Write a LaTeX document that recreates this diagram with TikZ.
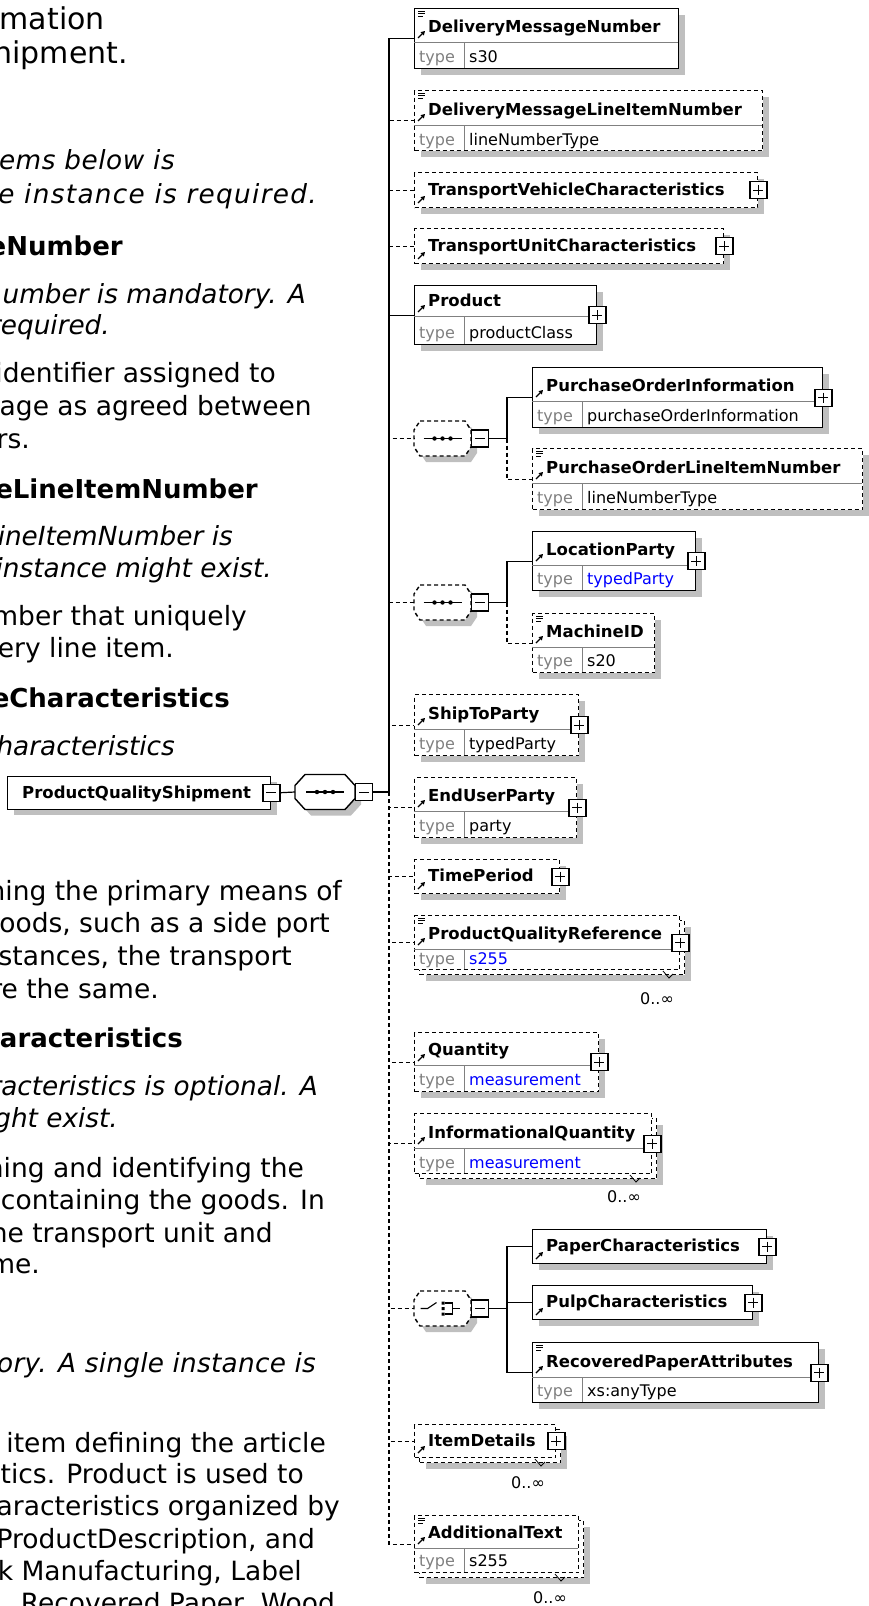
\documentclass[tikz,border=0pt]{standalone}
\usepackage{fontspec}
\setmainfont{DejaVu Sans}
\usepackage{tikz}
\usetikzlibrary{arrows.meta}
\usetikzlibrary{positioning}
\usetikzlibrary{shadows}
\definecolor{typeblue}{RGB}{0,0,255}
\tikzset{
  ttl/.style={font=\fontsize{30}{37}\selectfont, anchor=base east, inner sep=0pt},
  txt/.style={font=\fontsize{26.5}{32}\selectfont, anchor=base east, inner sep=0pt},
  itl/.style={txt, font=\itshape\fontsize{26.3}{32}\selectfont},
  hd/.style={txt, font=\bfseries\fontsize{26}{32}\selectfont},
  opt/.style={dash pattern=on 4pt off 3pt},
  elem/.style={draw, line width=1.4pt, fill=white, inner sep=0pt, anchor=north west,
    drop shadow={shadow xshift=6pt, shadow yshift=-6pt, fill=black!25, opacity=1}},
  stack/.style={draw, line width=1.4pt, fill=white, inner sep=0pt, anchor=north west, opt},
  compo/.style={inner sep=0pt, outer sep=0pt, minimum width=57pt, minimum height=35pt},
  elemname/.style={font=\bfseries\fontsize{16.5}{18}\selectfont, anchor=base west, inner sep=0pt},
  typename/.style={font=\fontsize{16}{18}\selectfont, text=black!50, anchor=base west, inner sep=0pt},
  typeval/.style={font=\fontsize{16}{18}\selectfont, anchor=base west, inner sep=0pt},
  occurs/.style={font=\fontsize{16}{18}\selectfont, anchor=base, inner sep=0pt},
  divline/.style={draw=black!50, line width=1pt},
  conn/.style={line width=1.2pt},
  expand/.style={draw, fill=white, line width=1.2pt, minimum size=17pt, inner sep=0pt,
    path picture={\draw[line width=1pt] ([xshift=3.5pt]path picture bounding box.west) -- ([xshift=-3.5pt]path picture bounding box.east)
      ([yshift=-3.5pt]path picture bounding box.north) -- ([yshift=3.5pt]path picture bounding box.south);}},
  collapse/.style={draw, fill=white, line width=1.2pt, minimum size=17pt, inner sep=0pt,
    path picture={\draw[line width=1pt] ([xshift=3.5pt]path picture bounding box.west) -- ([xshift=-3.5pt]path picture bounding box.east);}},
  refarrow/.pic={\draw[line width=1.3pt, -{Triangle[length=4pt, width=4.5pt]}] (0,0) -- (7,-7);},
  docicon/.pic={\draw[line width=0.9pt] (0,0) -- (7,0) (0,2.5) -- (7,2.5) (0,5) -- (5,5);},
  seqdots/.pic={\draw[line width=1.2pt] (-19,0) -- (19,0);
    \fill (-8,0) circle (2.2pt) (0,0) circle (2.2pt) (8,0) circle (2.2pt);},
  choicesym/.pic={\draw[line width=1.1pt] (-22,0) -- (-15,0) -- (-6,-6);
    \fill (-1,-7) rectangle (2,-4) (-1,-1.5) rectangle (2,1.5) (-1,4) rectangle (2,7);
    \draw[line width=1.1pt] (2,-5.5) -- (10,-5.5) -- (10,5.5) -- (2,5.5) (10,0) -- (17,0);},
  octagon/.pic={\fill[black!25, shift={(6,6)}] (-22.5,-17.5) -- (22.5,-17.5) -- (28.5,-8.5) -- (28.5,8.5) -- (22.5,17.5) -- (-22.5,17.5) -- (-28.5,8.5) -- (-28.5,-8.5) -- cycle;
    \draw[line width=1.4pt, fill=white] (-22.5,-17.5) -- (22.5,-17.5) -- (28.5,-8.5) -- (28.5,8.5) -- (22.5,17.5) -- (-22.5,17.5) -- (-28.5,8.5) -- (-28.5,-8.5) -- cycle;}
}
\begin{document}
\begin{tikzpicture}[x=1pt, y=-1pt]
\useasboundingbox (0,0) rectangle (869,1606);

\node[ttl] (title_1) at (105,29) {mation};
\node[ttl] (title_2) at (128,63) {hipment.};
\node[itl] (note_1) at (175,169) {\addfontfeature{LetterSpace=2}ems below is};
\node[itl] (note_2) at (317,203) {\addfontfeature{LetterSpace=5}e instance is required.};
\node[hd] (head_1) at (123,255) {eNumber};
\node[itl] (note_3) at (306,303) {umber is mandatory. A};
\node[itl] (note_4) at (110,334) {required.};
\node[txt] (body_1) at (276,382) {identifier assigned to};
\node[txt] (body_2) at (312,415) {age as agreed between};
\node[txt] (body_3) at (30,448) {rs.};
\node[hd] (head_2) at (258,498) {eLineItemNumber};
\node[itl] (note_5) at (233,545) {ineItemNumber is};
\node[itl] (note_6) at (272,577) {instance might exist.};
\node[txt] (body_4) at (247,625) {mber that uniquely};
\node[txt] (body_5) at (174,657) {ery line item.};
\node[hd] (head_3) at (230,707) {eCharacteristics};
\node[itl] (note_7) at (175,755) {haracteristics};
\node[txt] (body_6) at (342,900) {ning the primary means of};
\node[txt] (body_7) at (330,932) {oods, such as a side port};
\node[txt] (body_8) at (292,965) {stances, the transport};
\node[txt] (body_9) at (159,998) {re the same.};
\node[hd] (head_4) at (183,1047) {aracteristics};
\node[itl] (note_8) at (318,1095) {racteristics is optional. A};
\node[itl] (note_9) at (118,1127) {ght exist.};
\node[txt] (body_10) at (304,1177) {ning and identifying the};
\node[txt] (body_11) at (325,1209) {containing the goods. In};
\node[txt] (body_12) at (273,1242) {he transport unit and};
\node[txt] (body_13) at (40,1273) {me.};
\node[itl] (note_10) at (316,1372) {\addfontfeature{LetterSpace=1}ory. A single instance is};
\node[txt] (body_14) at (326,1452) {item defining the article};
\node[txt] (body_15) at (304,1483) {tics. Product is used to};
\node[txt] (body_16) at (340,1515) {aracteristics organized by};
\node[txt] (body_17) at (315,1548) {ProductDescription, and};
\node[txt] (body_18) at (302,1580) {k Manufacturing, Label};
\node[txt] (body_19) at (335,1612) {Recovered Paper, Wood};

\node[elem, minimum width=263pt, minimum height=33pt] (root) at (7,775.5) {};
\node[elemname] (root_name) at (22,798) {ProductQualityShipment};
\node[collapse] (root_minus) at (root.east) {};
\node[compo, minimum width=60pt] (seq_root) at (325,792) {};
\fill[black!25, shift={(6,6)}] (305,774.5) -- (345,774.5) -- (355,785.5) -- (355,798.5) -- (345,809.5) -- (305,809.5) -- (295,798.5) -- (295,785.5) -- cycle;
\draw[line width=1.4pt, fill=white] (305,774.5) -- (345,774.5) -- (355,785.5) -- (355,798.5) -- (345,809.5) -- (305,809.5) -- (295,798.5) -- (295,785.5) -- cycle;
\pic at (seq_root) {seqdots};
\node[collapse, right=0pt of seq_root] (seq_root_minus) {};
\coordinate (spine) at (389,792);

\node[elem, minimum width=264pt, minimum height=60pt] (dmn) at (414,8) {};
\draw[divline] (414,42) -- (678,42) (464,42) -- (464,68);
\pic at (418,11) {docicon};
\pic at (418,38) {refarrow};
\node[elemname] (dmn_name) at (428,32) {DeliveryMessageNumber};
\node[typename] (dmn_tn) at (419,62) {type};
\node[typeval] (dmn_tv) at (469,62) {s30};

\node[elem, opt, minimum width=348pt, minimum height=60pt] (dmlin) at (414,90) {};
\draw[divline] (414,125) -- (762,125) (464,125) -- (464,150);
\pic at (418,93) {docicon};
\pic at (418,121) {refarrow};
\node[elemname] (dmlin_name) at (428,115) {DeliveryMessageLineItemNumber};
\node[typename] (dmlin_tn) at (419,145) {type};
\node[typeval] (dmlin_tv) at (469,145) {lineNumberType};

\node[elem, opt, minimum width=343pt, minimum height=35pt] (tvc) at (414,172) {};
\pic at (418,203) {refarrow};
\node[elemname] (tvc_name) at (428,195) {TransportVehicleCharacteristics};
\node[expand] (tvc_plus) at (tvc.east) {};

\node[elem, opt, minimum width=309pt, minimum height=35pt] (tuc) at (414,228) {};
\pic at (418,259) {refarrow};
\node[elemname] (tuc_name) at (428,251) {TransportUnitCharacteristics};
\node[expand] (tuc_plus) at (tuc.east) {};

\node[elem, minimum width=182pt, minimum height=59pt] (product) at (414,285) {};
\draw[divline] (414,316) -- (596,316) (464,316) -- (464,344);
\pic at (418,312) {refarrow};
\node[elemname] (product_name) at (428,306) {Product};
\node[typename] (product_tn) at (419,338) {type};
\node[typeval] (product_tv) at (469,338) {productClass};
\node[expand] (product_plus) at (product.east) {};

\node[compo] (seq_a) at (442.5,438.5) {};
\pic[opt] at (seq_a) {octagon};
\pic at (seq_a) {seqdots};
\node[collapse, right=0pt of seq_a] (seq_a_minus) {};
\coordinate (bus_a) at (507,438.5);

\node[elem, minimum width=290pt, minimum height=60pt] (poi) at (532,367) {};
\draw[divline] (532,401) -- (822,401) (582,401) -- (582,427);
\pic at (536,397) {refarrow};
\node[elemname] (poi_name) at (546,391) {PurchaseOrderInformation};
\node[typename] (poi_tn) at (537,421) {type};
\node[typeval] (poi_tv) at (587,421) {purchaseOrderInformation};
\node[expand] (poi_plus) at (poi.east) {};

\node[elem, opt, minimum width=330pt, minimum height=61pt] (polin) at (532,448) {};
\draw[divline] (532,483) -- (862,483) (582,483) -- (582,509);
\pic at (536,451) {docicon};
\pic at (536,479) {refarrow};
\node[elemname] (polin_name) at (546,473) {PurchaseOrderLineItemNumber};
\node[typename] (polin_tn) at (537,503) {type};
\node[typeval] (polin_tv) at (587,503) {lineNumberType};

\node[compo] (seq_b) at (442.5,602.5) {};
\pic[opt] at (seq_b) {octagon};
\pic at (seq_b) {seqdots};
\node[collapse, right=0pt of seq_b] (seq_b_minus) {};
\coordinate (bus_b) at (507,602.5);

\node[elem, minimum width=163pt, minimum height=59pt] (locparty) at (532,531) {};
\draw[divline] (532,565) -- (695,565) (582,565) -- (582,590);
\pic at (536,561) {refarrow};
\node[elemname] (locparty_name) at (546,555) {LocationParty};
\node[typename] (locparty_tn) at (537,584) {type};
\node[typeval, text=typeblue] (locparty_tv) at (587,584) {typedParty};
\node[expand] (locparty_plus) at (locparty.east) {};

\node[elem, opt, minimum width=122pt, minimum height=59pt] (machineid) at (532,613) {};
\draw[divline] (532,647) -- (654,647) (582,647) -- (582,672);
\pic at (536,616) {docicon};
\pic at (536,643) {refarrow};
\node[elemname] (machineid_name) at (546,637) {MachineID};
\node[typename] (machineid_tn) at (537,666) {type};
\node[typeval] (machineid_tv) at (587,666) {s20};

\node[elem, opt, minimum width=164pt, minimum height=61pt] (shiptoparty) at (414,694) {};
\draw[divline] (414,729) -- (578,729) (464,729) -- (464,755);
\pic at (418,725) {refarrow};
\node[elemname] (shiptoparty_name) at (428,719) {ShipToParty};
\node[typename] (shiptoparty_tn) at (419,749) {type};
\node[typeval] (shiptoparty_tv) at (469,749) {typedParty};
\node[expand] (shiptoparty_plus) at (shiptoparty.east) {};

\node[elem, opt, minimum width=162pt, minimum height=60pt] (enduserparty) at (414,777) {};
\draw[divline] (414,811) -- (576,811) (464,811) -- (464,837);
\pic at (418,807) {refarrow};
\node[elemname] (enduserparty_name) at (428,801) {EndUserParty};
\node[typename] (enduserparty_tn) at (419,831) {type};
\node[typeval] (enduserparty_tv) at (469,831) {party};
\node[expand] (enduserparty_plus) at (enduserparty.east) {};

\node[elem, opt, minimum width=145pt, minimum height=34pt] (timeperiod) at (414,859) {};
\pic at (418,889) {refarrow};
\node[elemname] (timeperiod_name) at (428,881) {TimePeriod};
\node[expand] (timeperiod_plus) at (timeperiod.east) {};

\node[elem, opt, minimum width=265pt, minimum height=54pt] (pqr_back) at (419,920) {};
\node[stack, minimum width=265pt, minimum height=54pt] (pqr) at (414,915) {};
\draw[divline] (414,949) -- (679,949) (464,949) -- (464,969);
\pic at (418,918) {docicon};
\pic at (418,945) {refarrow};
\node[elemname] (pqr_name) at (428,939) {ProductQualityReference};
\node[typename] (pqr_tn) at (419,964) {type};
\node[typeval, text=typeblue] (pqr_tv) at (469,964) {s255};
\node[expand] (pqr_plus) at (pqr.east) {};
\draw[line width=0.8pt] (663,971) -- (669,978) -- (673,974);
\node[occurs] (pqr_occ) at (657,1004) {0..∞};

\node[elem, opt, minimum width=184pt, minimum height=59pt] (quantity) at (414,1032) {};
\draw[divline] (414,1065) -- (598,1065) (464,1065) -- (464,1091);
\pic at (418,1061) {refarrow};
\node[elemname] (quantity_name) at (428,1055) {Quantity};
\node[typename] (quantity_tn) at (419,1085) {type};
\node[typeval, text=typeblue] (quantity_tv) at (469,1085) {measurement};
\node[expand] (quantity_plus) at (quantity.east) {};

\node[elem, opt, minimum width=237pt, minimum height=60pt] (infoq_back) at (419,1118) {};
\node[stack, minimum width=237pt, minimum height=60pt] (infoq) at (414,1113) {};
\draw[divline] (414,1148) -- (651,1148) (464,1148) -- (464,1173);
\pic at (418,1144) {refarrow};
\node[elemname] (infoq_name) at (428,1138) {InformationalQuantity};
\node[typename] (infoq_tn) at (419,1168) {type};
\node[typeval, text=typeblue] (infoq_tv) at (469,1168) {measurement};
\node[expand] (infoq_plus) at (infoq.east) {};
\draw[line width=0.8pt] (630,1175) -- (636,1182) -- (640,1178);
\node[occurs] (infoq_occ) at (624,1202) {0..∞};

\node[compo] (choice) at (442.5,1308.5) {};
\pic[opt] at (choice) {octagon};
\pic at (choice) {choicesym};
\node[collapse, right=0pt of choice] (choice_minus) {};
\coordinate (bus_c) at (507,1308.5);

\node[elem, minimum width=234pt, minimum height=34pt] (paperchar) at (532,1229) {};
\pic at (536,1259) {refarrow};
\node[elemname] (paperchar_name) at (546,1251) {PaperCharacteristics};
\node[expand] (paperchar_plus) at (paperchar.east) {};

\node[elem, minimum width=220pt, minimum height=34pt] (pulpchar) at (532,1285) {};
\pic at (536,1315) {refarrow};
\node[elemname] (pulpchar_name) at (546,1307) {PulpCharacteristics};
\node[expand] (pulpchar_plus) at (pulpchar.east) {};

\node[elem, minimum width=286pt, minimum height=60pt] (rpa) at (532,1342) {};
\draw[divline] (532,1377) -- (818,1377) (582,1377) -- (582,1402);
\pic at (536,1345) {docicon};
\pic at (536,1373) {refarrow};
\node[elemname] (rpa_name) at (546,1367) {RecoveredPaperAttributes};
\node[typename] (rpa_tn) at (537,1396) {type};
\node[typeval] (rpa_tv) at (587,1396) {xs:anyType};
\node[expand] (rpa_plus) at (rpa.east) {};

\node[elem, opt, minimum width=141pt, minimum height=33pt] (itemdetails_back) at (419,1429) {};
\node[stack, minimum width=141pt, minimum height=33pt] (itemdetails) at (414,1424) {};
\pic at (418,1453) {refarrow};
\node[elemname] (itemdetails_name) at (428,1446) {ItemDetails};
\node[expand] (itemdetails_plus) at (itemdetails.east) {};
\draw[line width=0.8pt] (535,1459) -- (541,1466) -- (545,1462);
\node[occurs] (itemdetails_occ) at (528,1488) {0..∞};

\node[elem, opt, minimum width=164pt, minimum height=57pt] (addtext_back) at (419,1520) {};
\node[stack, minimum width=164pt, minimum height=57pt] (addtext) at (414,1515) {};
\draw[divline] (414,1548) -- (578,1548) (464,1548) -- (464,1572);
\pic at (418,1518) {docicon};
\pic at (418,1544) {refarrow};
\node[elemname] (addtext_name) at (428,1538) {AdditionalText};
\node[typename] (addtext_tn) at (419,1566) {type};
\node[typeval] (addtext_tv) at (469,1566) {s255};
\draw[line width=0.8pt] (555,1574) -- (561,1581) -- (565,1577);
\node[occurs] (addtext_occ) at (550,1603) {0..∞};

\draw[conn] (root_minus.east) -- (seq_root.west);
\draw[conn] (seq_root_minus.east) -- (spine);
\draw[conn] (spine) |- (dmn.west);
\draw[conn] (spine) |- (product.west);
\draw[conn, opt] (spine) |- (dmlin.west);
\draw[conn, opt] (spine) |- (tvc.west);
\draw[conn, opt] (spine) |- (tuc.west);
\draw[conn, opt] (spine) |- (seq_a.west);
\draw[conn, opt] (spine) |- (seq_b.west);
\draw[conn, opt] (spine) |- (shiptoparty.west);
\draw[conn, opt] (spine) |- (enduserparty.west);
\draw[conn, opt] (spine) |- (timeperiod.west);
\draw[conn, opt] (spine) |- (pqr.west);
\draw[conn, opt] (spine) |- (quantity.west);
\draw[conn, opt] (spine) |- (infoq.west);
\draw[conn, opt] (spine) |- (choice.west);
\draw[conn, opt] (spine) |- (itemdetails.west);
\draw[conn, opt] (spine) |- (addtext.west);
\draw[conn] (seq_a_minus.east) -- (bus_a);
\draw[conn] (bus_a) |- (poi.west);
\draw[conn, opt] (bus_a) |- (polin.west);
\draw[conn] (seq_b_minus.east) -- (bus_b);
\draw[conn] (bus_b) |- (locparty.west);
\draw[conn, opt] (bus_b) |- (machineid.west);
\draw[conn] (choice_minus.east) -- (bus_c);
\draw[conn] (bus_c) |- (paperchar.west);
\draw[conn] (bus_c) |- (pulpchar.west);
\draw[conn] (bus_c) |- (rpa.west);
\end{tikzpicture}
\end{document}
